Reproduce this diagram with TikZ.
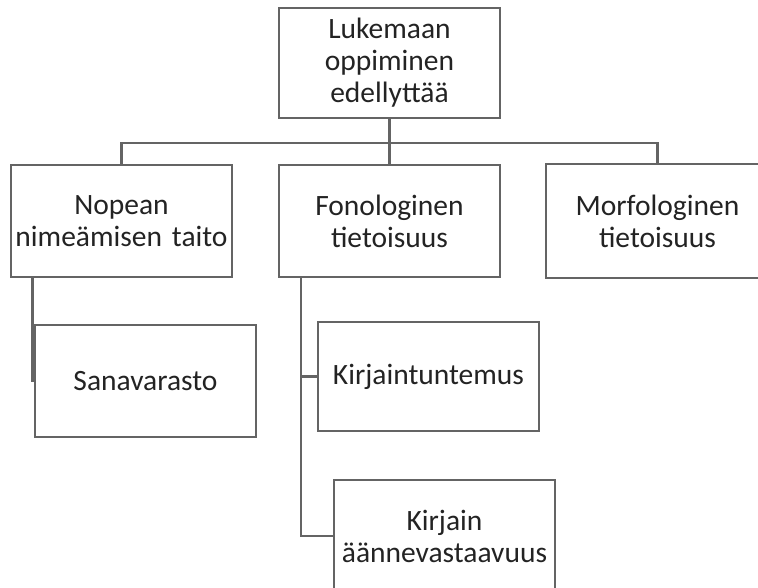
\documentclass[tikz,border=0pt]{standalone}
\usepackage{fontspec}
\setmainfont{Carlito}
\definecolor{linegray}{RGB}{100,100,100}
\definecolor{textgray}{RGB}{35,35,35}
\begin{document}
\begin{tikzpicture}[x=1pt,y=-1pt,
  box/.style={draw=linegray,line width=2.2pt,rectangle,inner sep=0pt,
    minimum width=221pt,text width=215pt,align=center,text=textgray,
    font=\fontsize{29.5}{32}\selectfont},
  conn/.style={draw=linegray,line width=2.2pt}]
\useasboundingbox (0,0) rectangle (758,587);
\clip (0,0) rectangle (758,587);
\node[box,minimum height=110pt] (top) at (389.5,63) {Lukemaan\\oppiminen\\edellyttää};
\node[box,minimum height=112pt] (left) at (121.5,221) {Nopean\\nimeämisen taito};
\node[box,minimum height=112pt] (mid) at (389.5,221) {Fonologinen\\tietoisuus};
\node[box,draw=none,minimum height=112pt] (right) at (657.5,221) {Morfologinen\\tietoisuus};
\draw[draw=linegray,line width=2.2pt] (right.north west) rectangle ([xshift=40pt]right.south east);
\node[box,minimum height=112pt] (sana) at (145.5,381) {Sanavarasto};
\node[box,minimum height=109pt] (kirj) at (428.5,376.5) {Kirjaintuntemus};
\node[box,minimum height=112pt] (aanne) at (444.5,536) {Kirjain\\äännevastaavuus};
\coordinate (bus) at (389.5,143);
\draw[conn] (top.south) -- (mid.north);
\draw[conn] (left.north) |- (bus) -| (right.north);
\draw[conn] ([xshift=-89pt]left.south) |- (sana.west);
\draw[conn] ([xshift=-88.5pt]mid.south) |- (kirj.west);
\draw[conn] ([xshift=-88.5pt]mid.south) |- (aanne.west);
\end{tikzpicture}
\end{document}
